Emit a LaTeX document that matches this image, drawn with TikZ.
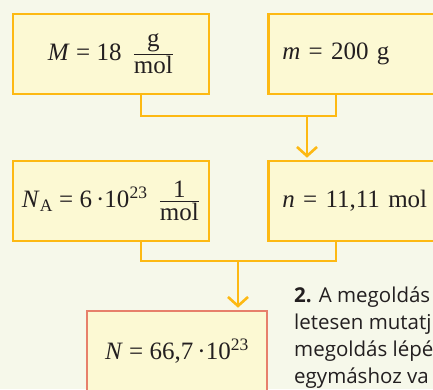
\documentclass[tikz,border=0pt]{standalone}
\usepackage{amsmath}
\usepackage{fontspec}
\setmainfont{Liberation Serif}
\newfontfamily\textsans{Open Sans}
\usetikzlibrary{arrows.meta}
\definecolor{bgc}{HTML}{F6F8EA}
\definecolor{boxfill}{HTML}{FCF9D3}
\definecolor{orng}{HTML}{FDB913}
\definecolor{salmon}{HTML}{E7806B}
\definecolor{ink}{HTML}{231F20}
\newcommand{\unitfrac}[2]{\ensuremath{\genfrac{}{}{1.3pt}{}{\mbox{\,#1\,}}{\mbox{#2}}}}
\begin{document}
\begin{tikzpicture}[x=1pt,y=-1pt,
  box/.style={draw=orng, fill=boxfill, line width=2.6pt, minimum height=80pt,
    inner sep=0pt, text=ink, font=\fontsize{25}{30}\selectfont},
  leftbox/.style={box, inner xsep=14pt, text width=155pt, align=left},
  conn/.style={draw=orng, line width=2.6pt},
  arr/.style={conn, -{Straight Barb[length=9pt,width=20pt]}, shorten >=2pt}]
\useasboundingbox (0,0) rectangle (433,389);
\clip (0,0) rectangle (433,389);
\fill[bgc] (0,0) rectangle (433,389);

\node[box, minimum width=196pt] (mm) at (111,54)
  {\textit{M} = 18\hspace{0.45em}\unitfrac{g}{mol}};
\node[leftbox, anchor=west] (m) at (267,54) {\textit{m} = 200 g};
\node[box, minimum width=196pt] (na) at (111,201)
  {\textit{N}\textsubscript{A} = 6\,·10\textsuperscript{23}\hspace{0.45em}\unitfrac{1}{mol}};
\node[leftbox, anchor=west] (n) at (267,201) {\textit{n} = 11,11 mol};
\node[box, draw=salmon, minimum width=180pt] (nn) at (177,351)
  {\textit{N} = 66,7\,·10\textsuperscript{23}};

\coordinate (j1) at (307,116);
\coordinate (j2) at (238,261);
\draw[conn] ([xshift=30pt]mm.south) |- (j1) -| ([xshift=69pt]m.south west);
\draw[arr] (j1) -- (j1 |- n.north);
\draw[conn] ([xshift=30pt]na.south) |- (j2) -| ([xshift=69pt]n.south west);
\draw[arr] (j2) -- (j2 |- nn.north);

\node[anchor=base west, align=left, inner sep=0pt, text=ink,
  font=\textsans\fontsize{20.5}{27}\selectfont] (txt) at (294,383)
  {\textbf{2.} A megoldás\\letesen mutatj\\megoldás lépé\\egymáshoz va};
\end{tikzpicture}
\end{document}
